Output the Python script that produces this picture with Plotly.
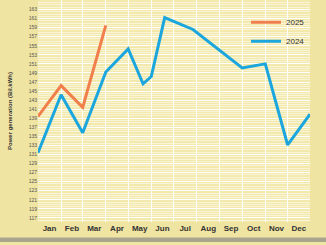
import plotly.graph_objects as go

dates_2025 = ["2025-01-01", "2025-02-01", "2025-03-01", "2025-04-01"]
vals_2025 = [139.4, 146.2, 141.4, 159.5]

dates_2024 = ["2024-01-01", "2024-02-01", "2024-03-01", "2024-04-01", "2024-05-01",
              "2024-05-21", "2024-06-01", "2024-06-19", "2024-07-27", "2024-10-01",
              "2024-11-01", "2024-12-01", "2024-12-31"]
vals_2024 = [131.4, 144.2, 135.8, 149.2, 154.3, 146.6, 148.2, 161.2, 158.6, 150.1,
             151.0, 133.1, 139.9]

# 2025 plotted on the same month-of-year axis
dates_2025_on_axis = [d.replace("2025", "2024") for d in dates_2025]

y_ticks = list(range(117, 166, 2))

fig = go.Figure()
fig.add_trace(go.Scatter(x=dates_2025_on_axis, y=vals_2025, mode="lines", name="2025",
                         line=dict(color="#f07f4c", width=3)))
fig.add_trace(go.Scatter(x=dates_2024, y=vals_2024, mode="lines", name="2024",
                         line=dict(color="#1ba6dd", width=3)))

font_family = "Liberation Sans Narrow, Liberation Sans, Arial"

fig.update_layout(
    width=326, height=245,
    margin=dict(l=38, r=16, t=0, b=23),
    paper_bgcolor="#f0e4a2",
    plot_bgcolor="#f4e9ad",
    font=dict(family=font_family),
    showlegend=True,
    legend=dict(x=1.0, y=0.965, xanchor="right", yanchor="top",
                bgcolor="rgba(0,0,0,0)", font=dict(size=8, color="#333333"),
                itemwidth=30, tracegroupgap=0),
    xaxis=dict(type="date", range=["2024-01-01", "2024-12-31"],
               dtick="M1", tick0="2024-01-01", tickformat="%b",
               ticklabelmode="period", showgrid=True, gridcolor="#ffffff", gridwidth=1,
               tickfont=dict(size=8, color="#333333", family=font_family, weight=700),
               ticks="", zeroline=False, showline=False),
    yaxis=dict(range=[116.1, 165.1], tickvals=y_ticks, ticktext=[str(v) for v in y_ticks],
               showgrid=True, gridcolor="#ffffff", gridwidth=1,
               minor=dict(dtick=0.5, tick0=117, showgrid=True, gridcolor="rgba(255,255,255,0.5)", gridwidth=0.6),
               tickfont=dict(size=5, color="#555555", family=font_family),
               title=dict(text="Power generation (Bil.kWh)", standoff=15,
                          font=dict(size=6, color="#333333", family=font_family, weight=700)),
               ticks="", zeroline=False, showline=False),
    shapes=[dict(type="rect", xref="paper", yref="paper", x0=-0.2, x1=1.1,
                 y0=-0.07, y1=-0.09, fillcolor="#a9a48e", line=dict(width=0), layer="below")],
)

fig.write_html("out.html")
